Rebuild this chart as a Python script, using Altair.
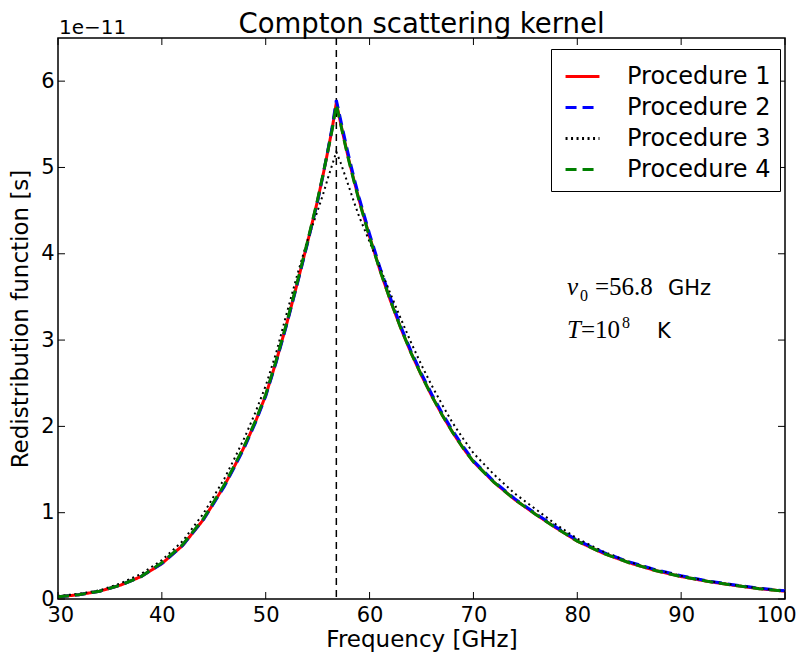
import altair as alt
import pandas as pd

# ---- data (values in units of 1e-11 s) ----
freq = [30, 32, 34, 36, 38, 40, 42, 44, 46, 47, 48, 49, 50, 51, 52, 53, 54, 55, 55.5, 56,
        56.4, 56.8, 57.2, 57.6, 58, 58.5, 59, 60, 61, 62, 63, 64, 65, 66, 67, 68, 69, 70,
        72, 74, 76, 78, 80, 82.5, 85, 87.5, 90, 92.5, 95, 97.5, 100]
p1 = [0.025, 0.05, 0.09, 0.16, 0.26, 0.41, 0.62, 0.92, 1.31, 1.54, 1.78, 2.05, 2.36, 2.75,
      3.18, 3.64, 4.12, 4.62, 4.90, 5.20, 5.45, 5.75, 5.52, 5.30, 5.09, 4.85, 4.62, 4.20,
      3.81, 3.46, 3.14, 2.85, 2.59, 2.35, 2.13, 1.93, 1.75, 1.59, 1.35, 1.15, 0.98, 0.82,
      0.67, 0.53, 0.42, 0.33, 0.26, 0.205, 0.16, 0.12, 0.09]
p2 = [0.025, 0.05, 0.09, 0.16, 0.26, 0.41, 0.62, 0.92, 1.30, 1.53, 1.77, 2.04, 2.35, 2.74,
      3.17, 3.63, 4.11, 4.61, 4.90, 5.21, 5.47, 5.78, 5.56, 5.34, 5.13, 4.88, 4.65, 4.23,
      3.84, 3.49, 3.16, 2.87, 2.61, 2.37, 2.15, 1.95, 1.77, 1.60, 1.36, 1.16, 0.99, 0.83,
      0.68, 0.54, 0.43, 0.34, 0.27, 0.21, 0.165, 0.125, 0.095]
p3 = [0.035, 0.06, 0.10, 0.18, 0.29, 0.45, 0.67, 0.99, 1.39, 1.63, 1.88, 2.16, 2.47, 2.85,
      3.30, 3.74, 4.15, 4.50, 4.68, 4.88, 5.03, 5.18, 5.06, 4.92, 4.78, 4.60, 4.43, 4.14,
      3.84, 3.54, 3.25, 2.97, 2.71, 2.47, 2.25, 2.04, 1.86, 1.69, 1.44, 1.22, 1.04, 0.86,
      0.70, 0.55, 0.43, 0.34, 0.27, 0.21, 0.165, 0.125, 0.09]
p4 = [0.025, 0.05, 0.09, 0.16, 0.26, 0.42, 0.63, 0.93, 1.32, 1.55, 1.79, 2.06, 2.37, 2.76,
      3.19, 3.65, 4.13, 4.63, 4.91, 5.20, 5.44, 5.73, 5.51, 5.29, 5.08, 4.84, 4.61, 4.19,
      3.81, 3.46, 3.14, 2.85, 2.59, 2.35, 2.13, 1.93, 1.75, 1.59, 1.35, 1.15, 0.98, 0.82,
      0.67, 0.53, 0.42, 0.33, 0.26, 0.205, 0.16, 0.12, 0.09]

series_names = ["Procedure 1", "Procedure 2", "Procedure 3", "Procedure 4"]
series_colors = ["#ff0000", "#0000ff", "#000000", "#008000"]
series_dashes = [[1, 0], [11, 6], [2, 3.5], [11, 6]]
series_widths = [3, 3, 2, 3]

x_ticks = [30, 40, 50, 60, 70, 80, 90, 100]
y_ticks = [0, 1, 2, 3, 4, 5, 6]
nu0 = 56.8

title_text = "Compton scattering kernel"
x_title = "Frequency [GHz]"
y_title = "Redistribution function [s]"
offset_text = "1e\u221211"

ann_x = 79.0
ann_y1 = 3.52
ann_y2 = 3.02

# ---- build table ----
rows = []
for name, vals in zip(series_names, [p1, p2, p3, p4]):
    for f, v in zip(freq, vals):
        rows.append({"freq": f, "value": v, "series": name})
df = pd.DataFrame(rows)

W, H = 727, 561
xs = alt.Scale(domain=[30, 100], nice=False, zero=False, padding=0)
ys = alt.Scale(domain=[0, 6.5], nice=False, zero=False, padding=0)
x_axis = alt.Axis(values=x_ticks, title=x_title, format="d", labelFlush=True,
                  labelFlushOffset=11)
y_axis = alt.Axis(values=y_ticks, title=y_title, format="d", labelFlush=False)

legend = alt.Legend(
    orient="none", legendX=493, legendY=11, title=None,
    symbolType="stroke", symbolSize=1150, symbolStrokeWidth=3, symbolOffset=4,
    labelFontSize=24, labelFont="DejaVu Sans", labelColor="black",
    strokeColor="black", fillColor="white", padding=9, rowPadding=0,
    labelOffset=26, labelLimit=300,
)
color_scale = alt.Scale(domain=series_names, range=series_colors)
dash_scale = alt.Scale(domain=series_names, range=series_dashes)


def X(field=None, datum=None):
    if datum is not None:
        return alt.X(datum=datum, type="quantitative", scale=xs, axis=x_axis)
    return alt.X(field, type="quantitative", scale=xs, axis=x_axis)


def Y(field=None, datum=None):
    if datum is not None:
        return alt.Y(datum=datum, type="quantitative", scale=ys, axis=y_axis)
    return alt.Y(field, type="quantitative", scale=ys, axis=y_axis)


layers = []

# vertical dashed line at nu0
layers.append(
    alt.Chart(pd.DataFrame({"f": [nu0]}))
    .mark_rule(color="black", strokeWidth=1.5, strokeDash=[7, 5])
    .encode(x=X("f"))
)

for name, w in zip(series_names, series_widths):
    layers.append(
        alt.Chart(df)
        .transform_filter(alt.datum.series == name)
        .mark_line(strokeWidth=w, clip=True)
        .encode(
            x=X("freq"),
            y=Y("value"),
            color=alt.Color("series:N", scale=color_scale, legend=legend),
            strokeDash=alt.StrokeDash("series:N", scale=dash_scale, legend=legend),
        )
    )

# inward ticks on all four sides
xt = pd.DataFrame({"t": x_ticks})
yt = pd.DataFrame({"t": y_ticks})
tick_len = 7
layers.append(alt.Chart(xt).mark_rule(color="black", strokeWidth=1).encode(
    x=X("t"), y=alt.value(H), y2=alt.value(H - tick_len)))
layers.append(alt.Chart(xt).mark_rule(color="black", strokeWidth=1).encode(
    x=X("t"), y=alt.value(0), y2=alt.value(tick_len)))
layers.append(alt.Chart(yt).mark_rule(color="black", strokeWidth=1).encode(
    y=Y("t"), x=alt.value(0), x2=alt.value(tick_len)))
layers.append(alt.Chart(yt).mark_rule(color="black", strokeWidth=1).encode(
    y=Y("t"), x=alt.value(W), x2=alt.value(W - tick_len)))

# offset text 1e-11
layers.append(
    alt.Chart(pd.DataFrame({"label": [offset_text]}))
    .mark_text(align="left", baseline="alphabetic", dx=1, dy=-4, fontSize=20,
               font="DejaVu Sans", color="black")
    .encode(x=X(datum=30), y=Y(datum=6.5), text="label:N")
)

# chart title, centred over the plot area
layers.append(
    alt.Chart(pd.DataFrame({"label": [title_text]}))
    .mark_text(align="center", baseline="alphabetic", dy=-5, fontSize=27.5,
               font="DejaVu Sans", color="black")
    .encode(x=X(datum=65), y=Y(datum=6.5), text="label:N")
)


def ann(txt, yv, dx, dy, font, size, style="normal"):
    return (
        alt.Chart(pd.DataFrame({"label": [txt]}))
        .mark_text(align="left", baseline="alphabetic", dx=dx, dy=dy, fontSize=size,
                   font=font, fontStyle=style, color="black")
        .encode(x=X(datum=ann_x), y=Y(datum=yv), text="label:N")
    )


SERIF = "Liberation Serif"
SANS = "DejaVu Sans"
layers += [
    ann("\u03bd", ann_y1, 0, 0, SERIF, 25, "italic"),
    ann("0", ann_y1, 13, 6, SERIF, 16),
    ann("=56.8", ann_y1, 28, 0, SERIF, 25),
    ann("GHz", ann_y1, 101, 0, SANS, 21),
    ann("T", ann_y2, 0, 0, SERIF, 25, "italic"),
    ann("=10", ann_y2, 14, 0, SERIF, 25),
    ann("8", ann_y2, 55, -10, SERIF, 16),
    ann("K", ann_y2, 90, 0, SANS, 21),
]

chart = (
    alt.layer(*layers)
    .properties(
        width=W, height=H,
        padding={"left": 50, "top": 30, "right": 14, "bottom": 53},
        autosize=alt.AutoSizeParams(type="none"),
    )
    .configure_view(stroke="black", strokeWidth=1.5)
    .configure_axis(grid=False, domain=False, ticks=False, tickSize=0,
                    labelFont="DejaVu Sans", labelFontSize=21, labelColor="black",
                    titleFont="DejaVu Sans", titleFontSize=23, titleFontWeight="normal",
                    titleColor="black")
    .configure_axisX(labelPadding=5, titlePadding=3)
    .configure_axisY(labelPadding=4, titlePadding=8)
)

chart.save("out.html", embed_options={"renderer": "svg", "actions": False})
